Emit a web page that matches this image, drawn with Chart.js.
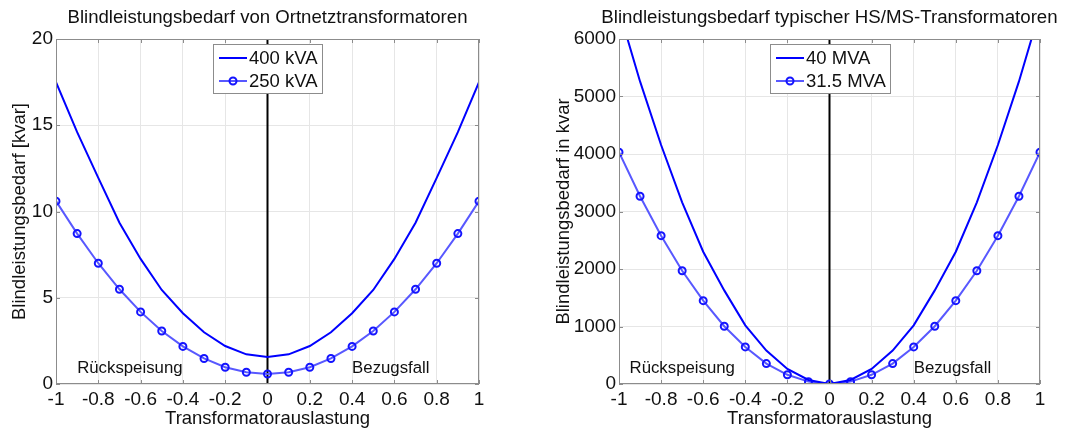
<!DOCTYPE html>
<html><head><meta charset="utf-8">
<script src="https://cdn.jsdelivr.net/npm/chart.js@4.4.1/dist/chart.umd.min.js"></script>
<style>
html,body{margin:0;padding:0;background:#fff;overflow:hidden;}
#l{position:absolute;left:0;top:0;width:540px;height:430px;}
#r{position:absolute;left:540px;top:0;width:543px;height:430px;}
</style></head><body>
<div id="l"><canvas id="c1"></canvas></div>
<div id="r"><canvas id="c2"></canvas></div>
<script>
// ---- data ----
const load = [-1,-0.9,-0.8,-0.7,-0.6,-0.5,-0.4,-0.3,-0.2,-0.1,0,0.1,0.2,0.3,0.4,0.5,0.6,0.7,0.8,0.9,1];
const q400kVA = [17.5,14.6,11.95,9.35,7.25,5.45,4.1,3.0,2.2,1.72,1.57,1.72,2.2,3.0,4.1,5.45,7.25,9.35,11.95,14.6,17.5];
const q250kVA = [10.6,8.72,7.0,5.49,4.18,3.07,2.18,1.48,0.97,0.68,0.58,0.68,0.97,1.48,2.18,3.07,4.18,5.49,7.0,8.72,10.6];
const q40MVA = [6500,5262,4157,3160,2300,1628,1020,581,262,70,0,70,262,581,1020,1628,2300,3160,4157,5262,6500];
const q31MVA = [4030,3265,2580,1970,1450,1005,645,355,160,41,0,41,160,355,645,1005,1450,1970,2580,3265,4030];
const zeroX = [0,0];
const zeroYLeft = [0,20];
const zeroYRight = [0,6000];
const xTickLabels = ['-1','-0.8','-0.6','-0.4','-0.2','0','0.2','0.4','0.6','0.8','1'];
const yTicksLeft = ['0','5','10','15','20'];
const yTicksRight = ['0','1000','2000','3000','4000','5000','6000'];
const titles = ['Blindleistungsbedarf von Ortnetztransformatoren','Blindleistungsbedarf typischer HS/MS-Transformatoren'];
const yTitles = ['Blindleistungsbedarf [kvar]','Blindleistungsbedarf in kvar'];
const xTitle = 'Transformatorauslastung';
const notesLeft = [{x:-0.9,y:0.9,t:'Rückspeisung'},{x:0.4,y:0.9,t:'Bezugsfall'}];
const notesRight = [{x:-0.95,y:270,t:'Rückspeisung'},{x:0.4,y:270,t:'Bezugsfall'}];

const FF = '"Liberation Sans", Arial, Helvetica, sans-serif';
const GRID = '#e6e6e6', FRAME = '#8c8c8c';

function pts(xs, ys){ return xs.map((x,i)=>({x:x, y:ys[i]})); }

function decorPlugin(cfg){
  return {
    id:'decor',
    afterDatasetsDraw(chart){
      const ctx = chart.ctx, ca = chart.chartArea, xs = chart.scales.x, ys = chart.scales.y;
      ctx.save();
      // title
      ctx.fillStyle = '#111'; ctx.font = cfg.tsize + 'px ' + FF; ctx.textAlign = 'center'; ctx.textBaseline = 'middle';
      ctx.fillText(cfg.title, (ca.left + ca.right)/2, 18);
      // frame
      ctx.strokeStyle = FRAME; ctx.lineWidth = 1;
      ctx.strokeRect(Math.round(ca.left)+0.5, Math.round(ca.top)+0.5, Math.round(ca.right-ca.left)-1, Math.round(ca.bottom-ca.top)-1);
      // inner ticks
      ctx.beginPath();
      xs.ticks.forEach(t=>{ const p = Math.round(xs.getPixelForValue(t.value))+0.5;
        ctx.moveTo(p, ca.bottom); ctx.lineTo(p, ca.bottom-4);
        ctx.moveTo(p, ca.top); ctx.lineTo(p, ca.top+4); });
      ys.ticks.forEach(t=>{ const p = Math.round(ys.getPixelForValue(t.value))+0.5;
        ctx.moveTo(ca.left, p); ctx.lineTo(ca.left+4, p);
        ctx.moveTo(ca.right, p); ctx.lineTo(ca.right-4, p); });
      ctx.stroke();
      // notes
      ctx.fillStyle = '#111'; ctx.font = '16.8px '+FF; ctx.textAlign='left'; ctx.textBaseline='middle';
      cfg.notes.forEach(n=>ctx.fillText(n.t, xs.getPixelForValue(n.x), ys.getPixelForValue(n.y)));
      // legend
      ctx.font = '18.5px '+FF;
      const items = chart.data.datasets.filter(d=>d.label);
      const tw = Math.max(...items.map(d=>ctx.measureText(d.label).width));
      const w = Math.round(6 + 28 + 2 + tw + 4), h = 49;
      const cx = (ca.left+ca.right)/2;
      const x0 = Math.round(cx - w/2), y0 = Math.round(ca.top) + 5;
      ctx.fillStyle = '#fff'; ctx.fillRect(x0, y0, w, h);
      ctx.strokeStyle = FRAME; ctx.strokeRect(x0+0.5, y0+0.5, w, h);
      items.forEach((d,i)=>{
        const y = y0 + 14 + i*23;
        ctx.strokeStyle = d.borderColor; ctx.lineWidth = 2;
        ctx.beginPath(); ctx.moveTo(x0+6, y); ctx.lineTo(x0+34, y); ctx.stroke();
        if (d.pointRadius > 0){
          ctx.strokeStyle = d.pointBorderColor; ctx.lineWidth = d.pointBorderWidth;
          ctx.beginPath(); ctx.arc(x0+20, y, d.pointRadius, 0, Math.PI*2); ctx.stroke();
        }
        ctx.fillStyle = '#111'; ctx.textAlign='left'; ctx.textBaseline='middle';
        ctx.fillText(d.label, x0+36, y+1);
      });
      ctx.restore();
    }
  };
}

function makeChart(id, cfg){
  return new Chart(document.getElementById(id), {
    type:'line',
    data:{ datasets:[
      {label:cfg.l1, data:pts(load,cfg.d1), borderColor:'#0000ff', borderWidth:2, pointRadius:0, tension:0, fill:false},
      {label:cfg.l2, data:pts(load,cfg.d2), borderColor:'#5858ff', borderWidth:2, pointRadius:3.5, pointBorderWidth:2,
        pointBorderColor:'#1414ff', pointBackgroundColor:'rgba(0,0,0,0)', tension:0, fill:false},
      {data:pts(zeroX,cfg.zy), borderColor:'#000', borderWidth:2, pointRadius:0, fill:false}
    ]},
    options:{
      responsive:true, maintainAspectRatio:false, animation:false, events:[],
      layout:{padding:{left:0,right:cfg.padR,top:39,bottom:0}},
      plugins:{ legend:{display:false}, tooltip:{enabled:false}, title:{display:false} },
      scales:{
        x:{type:'linear', min:-1, max:1,
          afterFit(s){ s.height = 46; },
          ticks:{stepSize:0.2, autoSkip:false, maxRotation:0, color:'#111', padding:4,
            font:{family:FF, size:19}, callback:(v,i)=>xTickLabels[i]},
          grid:{color:GRID, drawTicks:false}, border:{display:false},
          title:{display:true, text:xTitle, color:'#111', font:{family:FF, size:18.5}, padding:{top:0,bottom:0}}
        },
        y:{type:'linear', min:0, max:cfg.ymax,
          afterFit(s){ s.width = cfg.yw; },
          ticks:{stepSize:cfg.ystep, autoSkip:false, color:'#111', padding:3,
            font:{family:FF, size:19}, callback:(v,i)=>cfg.yl[i]},
          grid:{color:GRID, drawTicks:false}, border:{display:false},
          title:{display:true, text:cfg.ytitle, color:'#111', font:{family:FF, size:18.5}, padding:{top:cfg.ytp,bottom:0}}
        }
      }
    },
    plugins:[decorPlugin(cfg)]
  });
}

makeChart('c1', {l1:'400 kVA', l2:'250 kVA', d1:q400kVA, d2:q250kVA, zy:zeroYLeft, padR:61, yw:56, tsize:18.6,
  ymax:20, ystep:5, yl:yTicksLeft, title:titles[0], ytitle:yTitles[0], ytp:9, notes:notesLeft});
makeChart('c2', {l1:'40 MVA', l2:'31.5 MVA', d1:q40MVA, d2:q31MVA, zy:zeroYRight, padR:43, yw:79, tsize:18.7,
  ymax:6000, ystep:1000, yl:yTicksRight, title:titles[1], ytitle:yTitles[1], ytp:13, notes:notesRight});
</script>
</body></html>
